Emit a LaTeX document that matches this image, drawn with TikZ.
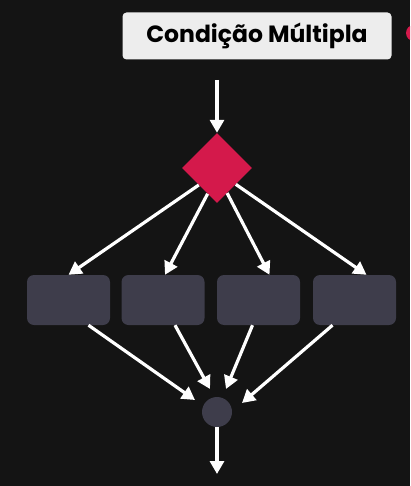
\documentclass[tikz,border=0pt]{standalone}
\usepackage{fontspec}
\setmainfont{Poppins}
\usetikzlibrary{shapes.geometric, arrows.meta}
\definecolor{bg}{HTML}{141414}
\definecolor{rd}{HTML}{D4194B}
\definecolor{bx}{HTML}{3E3D4B}
\definecolor{lbl}{HTML}{EDEDED}

\begin{document}
\begin{tikzpicture}[
    x=1pt, y=-1pt,
    every node/.style={},
    flow/.style={draw=white, line width=3.2pt, -{Triangle[length=13pt, width=14pt]}},
    caixa/.style={fill=bx, rounded corners=7pt, minimum width=83pt, minimum height=50pt, inner sep=0pt}]

      \fill[bg] (0,0) rectangle (410,486);
      \useasboundingbox (0,0) rectangle (410,486);

      % titulo
      \node[fill=lbl, rounded corners=4pt, minimum width=269pt, minimum height=47pt,
            inner sep=0pt, font=\fontsize{23.5}{28}\selectfont\bfseries] (titulo) at (257,36) {Condição Múltipla};
      \begin{scope}
        \clip (0,0) rectangle (410,486);
        \node[fill=rd, circle, minimum size=16pt, inner sep=0pt] (ponto) at (414,33) {};
      \end{scope}

      % decisao
      \node[fill=rd, diamond, minimum width=70pt, minimum height=70pt, inner sep=0pt] (cond) at (217,168) {};
      \coordinate (topo) at (217,80);
      \draw[flow] (topo) -- (cond.north);

      % caixas
      \node[caixa] (c1) at (68.5,300) {};
      \node[caixa] (c2) at (163,300) {};
      \node[caixa] (c3) at (258.5,300) {};
      \node[caixa] (c4) at (354.5,300) {};

      \draw[flow] (cond.-137) -- (c1.north);
      \draw[flow] (cond.-110) -- ([xshift=2pt]c2.north);
      \draw[flow] (cond.-68) -- ([xshift=11pt]c3.north);
      \draw[flow] (cond.-41) -- ([xshift=12pt]c4.north);

      % juncao
      \node[fill=bx, circle, minimum size=30pt, inner sep=0pt] (junta) at (217,412) {};
      \coordinate (fim) at (217,474);

      \draw[flow] ([xshift=20pt]c1.south) -- ([xshift=-22pt,yshift=12pt]junta.center);
      \draw[flow] ([xshift=12pt]c2.south) -- ([xshift=-7pt,yshift=23pt]junta.center);
      \draw[flow] ([xshift=-6pt]c3.south) -- ([xshift=9pt,yshift=23pt]junta.center);
      \draw[flow] ([xshift=-22pt]c4.south) -- ([xshift=25pt,yshift=9pt]junta.center);

      \draw[flow] (junta.south) -- (fim);

\end{tikzpicture}
\end{document}
